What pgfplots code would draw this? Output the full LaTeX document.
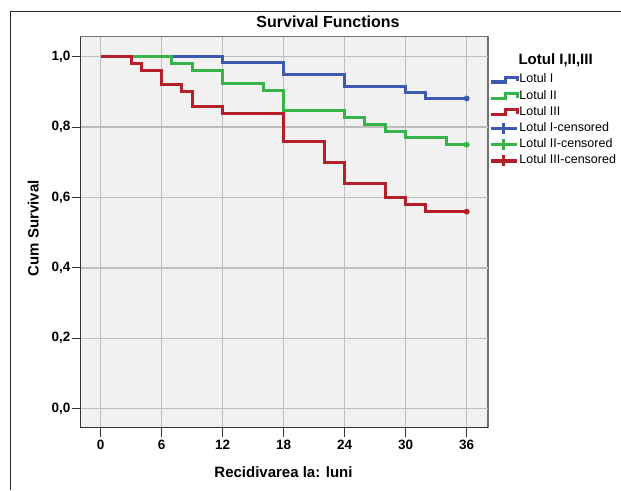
\documentclass[border=0pt]{standalone}
\usepackage{fontspec}
\setmainfont{Liberation Sans}
\usepackage{pgfplots}
\pgfplotsset{compat=1.18}

\definecolor{sblue}{HTML}{3C5AAF}
\definecolor{sgreen}{HTML}{36B44A}
\definecolor{sred}{HTML}{B41F2A}
\definecolor{plotbg}{HTML}{F1F1F1}
\definecolor{gridc}{HTML}{BEBEBE}

\begin{document}
\begin{tikzpicture}
\path[use as bounding box] (0pt,0pt) rectangle (621pt,490pt);
% outer frame (left and top only visible)
\draw[black!85, line width=1.2pt] (10.7pt,0pt) -- (10.7pt,478.3pt) -- (621pt,478.3pt);

\begin{axis}[
  at={(80.7pt,62.3pt)}, anchor=south west,
  scale only axis, width=407.3pt, height=391pt,
  xmin=-1.95, xmax=38.1, ymin=-0.054, ymax=1.057,
  xtick={0,6,12,18,24,30,36},
  ytick={0,0.2,0.4,0.6,0.8,1},
  /pgf/number format/assume math mode=true,
  yticklabel style={inner xsep=1pt, /pgf/number format/fixed, /pgf/number format/fixed zerofill,
    /pgf/number format/precision=1, /pgf/number format/use comma},
  ticklabel style={font=\fontsize{13.5}{16}\selectfont\bfseries},
  axis lines=left,
  axis line style={-, black!80, line width=1.3pt},
  tick align=outside,
  major tick length=9pt,
  tick style={black!80, line width=1pt},
  grid=major, major grid style={color=gridc, line width=1.3pt},
  axis background/.style={fill=plotbg, draw=black!55, line width=1.1pt},
  legend cell align=left,
  legend style={at={(1,1)}, anchor=north west, xshift=1pt, yshift=-35pt,
    draw=none, fill=none, inner sep=0pt, row sep=0pt,
    font=\fontsize{12.5}{15}\selectfont,
    nodes={inner sep=0pt, text height=11pt, text depth=5.2pt},
    /tikz/every even column/.append style={column sep=1pt}},
]
\addplot[const plot mark left, color=sblue, line width=3pt,
  legend image code/.code={\draw[sblue, line width=3.2pt] (0pt,-2pt) -- (15pt,-2pt) -- (15pt,2.5pt) -- (27pt,2.5pt) -- (27pt,-1.5pt);}]
  coordinates {(0,1) (12,0.9831) (18,0.9492) (24,0.9153) (30,0.8983) (32,0.8814) (36,0.8814)};
\addlegendentry{Lotul I}
\addplot[const plot mark left, color=sgreen, line width=3pt,
  legend image code/.code={\draw[sgreen, line width=3.2pt] (0pt,-2pt) -- (15pt,-2pt) -- (15pt,2.5pt) -- (27pt,2.5pt) -- (27pt,-1.5pt);}]
  coordinates {(0,1) (7,0.9808) (9,0.9615) (12,0.9231) (16,0.9038) (18,0.8462) (24,0.8269) (26,0.8077) (28,0.7885) (30,0.7692) (34,0.75) (36,0.75)};
\addlegendentry{Lotul II}
\addplot[const plot mark left, color=sred, line width=3pt,
  legend image code/.code={\draw[sred, line width=3.2pt] (0pt,-2pt) -- (15pt,-2pt) -- (15pt,2.5pt) -- (27pt,2.5pt) -- (27pt,-1.5pt);}]
  coordinates {(0,1) (3,0.98) (4,0.96) (6,0.92) (8,0.90) (9,0.86) (12,0.84) (18,0.76) (22,0.70) (24,0.64) (28,0.60) (30,0.58) (32,0.56) (36,0.56)};
\addlegendentry{Lotul III}
\addplot[only marks, mark=*, mark size=2.7pt, color=sblue,
  legend image code/.code={\draw[sblue, line width=3.2pt] (0pt,0pt) -- (26pt,0pt); \draw[sblue, line width=3.2pt] (13pt,-5.5pt) -- (13pt,5.5pt);}]
  coordinates {(36,0.8814)};
\addlegendentry{Lotul I-censored}
\addplot[only marks, mark=*, mark size=2.7pt, color=sgreen,
  legend image code/.code={\draw[sgreen, line width=3.2pt] (0pt,0pt) -- (26pt,0pt); \draw[sgreen, line width=3.2pt] (13pt,-5.5pt) -- (13pt,5.5pt);}]
  coordinates {(36,0.75)};
\addlegendentry{Lotul II-censored}
\addplot[only marks, mark=*, mark size=2.7pt, color=sred,
  legend image code/.code={\draw[sred, line width=3.2pt] (0pt,0pt) -- (26pt,0pt); \draw[sred, line width=3.2pt] (13pt,-5.5pt) -- (13pt,5.5pt);}]
  coordinates {(36,0.56)};
\addlegendentry{Lotul III-censored}
\end{axis}

\node[font=\fontsize{16}{19}\selectfont\bfseries] at (328pt,468pt) {Survival Functions};
\node[font=\fontsize{15}{18}\selectfont\bfseries, anchor=west] at (515pt,430pt) {Lotul I,II,III};
\node[font=\fontsize{15}{18}\selectfont\bfseries] at (283.5pt,18.3pt) {Recidivarea la: luni};
\node[font=\fontsize{15}{18}\selectfont\bfseries, rotate=90] at (33.3pt,261.7pt) {Cum Survival};
\end{tikzpicture}
\end{document}
